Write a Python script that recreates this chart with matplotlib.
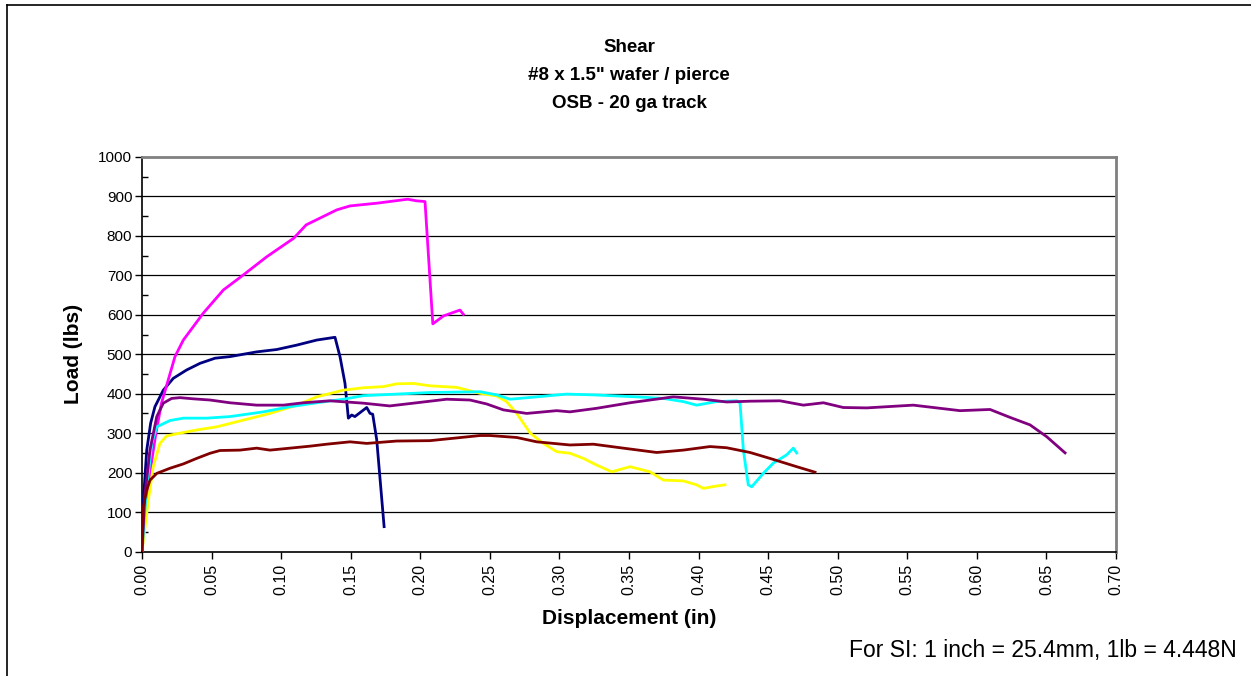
import numpy as np
import matplotlib
matplotlib.use("Agg")
import matplotlib.pyplot as plt
from matplotlib.lines import Line2D

plt.rcParams['font.family'] = ['Liberation Sans', 'DejaVu Sans']

# Datos (desplazamiento in, carga lbs)
navy_x = [0.0, 0.001, 0.0034, 0.0062, 0.0093, 0.0153, 0.0225, 0.032, 0.0417, 0.0525, 0.0632,
          0.0824, 0.0968, 0.111, 0.1256, 0.1387, 0.1423, 0.1459, 0.1483, 0.1507, 0.153,
          0.1615, 0.1639, 0.1658, 0.1687, 0.174]
navy_y = [0, 130, 257, 325, 367, 409, 439, 460, 477, 490, 494,
          506, 512, 523, 536, 543, 494, 426, 338, 346, 342,
          365, 350, 348, 283, 63]

magenta_x = [0.0, 0.003, 0.007, 0.01, 0.014, 0.0237, 0.0297, 0.044, 0.0585, 0.0728, 0.0896,
             0.109, 0.118, 0.14, 0.1495, 0.169, 0.191, 0.197, 0.2034, 0.209, 0.2166,
             0.2285, 0.231]
magenta_y = [0, 120, 230, 300, 376, 494, 536, 604, 663, 701, 747,
             794, 828, 866, 876, 883, 893, 889, 887, 577, 597,
             612, 601]

yellow_x = [0.0, 0.0046, 0.0081, 0.0129, 0.0177, 0.0273, 0.0393, 0.0537, 0.0728, 0.092, 0.1112,
            0.1256, 0.1447, 0.159, 0.1735, 0.183, 0.195, 0.207, 0.2262, 0.2429, 0.255,
            0.262, 0.2693, 0.279, 0.2885, 0.298, 0.3076, 0.3172, 0.3268, 0.3376, 0.3507,
            0.3651, 0.3747, 0.389, 0.3986, 0.4034, 0.413, 0.419]
yellow_y = [0, 131, 215, 274, 293, 300, 308, 316, 333, 350, 371,
            392, 409, 415, 418, 425, 426, 420, 416, 401, 394,
            380, 350, 300, 274, 253, 249, 236, 219, 202, 215,
            202, 181, 179, 169, 160, 166, 169]

cyan_x = [0.0, 0.003, 0.007, 0.0106, 0.0201, 0.0297, 0.0465, 0.0632, 0.0872, 0.1064, 0.1256,
          0.1447, 0.159, 0.183, 0.207, 0.243, 0.255, 0.2645, 0.2837, 0.3052, 0.3244,
          0.3555, 0.3747, 0.389, 0.3986, 0.413, 0.4274, 0.4298, 0.4322, 0.4357, 0.4382,
          0.4465, 0.4537, 0.4633, 0.4681, 0.4705]
cyan_y = [0, 150, 274, 316, 332, 338, 338, 342, 354, 367, 377,
          386, 395, 399, 403, 405, 397, 386, 392, 399, 397,
          392, 388, 380, 371, 380, 382, 376, 257, 169, 164,
          198, 224, 245, 262, 250]

purple_x = [0.0, 0.002, 0.0057, 0.0106, 0.0153, 0.0213, 0.0273, 0.0369, 0.0489, 0.0632, 0.0824,
            0.1016, 0.116, 0.135, 0.159, 0.178, 0.195, 0.219, 0.2357, 0.2477, 0.2597,
            0.2765, 0.298, 0.3076, 0.3268, 0.3507, 0.3651, 0.3818, 0.4034, 0.4202, 0.437,
            0.4585, 0.4753, 0.4897, 0.504, 0.5208, 0.5543, 0.5879, 0.6095, 0.6238, 0.6382,
            0.6502, 0.6634]
purple_y = [0, 140, 257, 342, 376, 388, 390, 387, 384, 377, 371,
            371, 377, 382, 376, 369, 376, 386, 384, 374, 359,
            350, 357, 354, 363, 377, 384, 392, 386, 379, 381,
            382, 371, 377, 365, 364, 371, 357, 360, 340, 321,
            291, 250]

maroon_x = [0.0, 0.001, 0.0034, 0.0058, 0.0106, 0.0201, 0.0297, 0.0393, 0.0489, 0.056, 0.0704,
            0.0824, 0.092, 0.1064, 0.1207, 0.1327, 0.1495, 0.1615, 0.183, 0.207, 0.2237,
            0.2429, 0.25, 0.2693, 0.2837, 0.3076, 0.3244, 0.3459, 0.3699, 0.389, 0.4082,
            0.4202, 0.437, 0.4513, 0.4705, 0.4837]
maroon_y = [0, 114, 156, 181, 198, 211, 222, 236, 249, 256, 257,
            262, 257, 262, 267, 272, 278, 274, 280, 281, 287,
            294, 294, 289, 278, 270, 272, 262, 251, 257, 266,
            263, 251, 236, 215, 201]

x_ticks = np.arange(0, 0.701, 0.05)
y_ticks = np.arange(0, 1001, 100)

fig = plt.figure(figsize=(12.51, 6.76), dpi=100)
ax = fig.add_axes([142 / 1251, 1 - 551.5 / 676, 974 / 1251, 394.5 / 676])

# grid horizontal estilo Excel
for v in y_ticks[1:-1]:
    ax.axhline(v, color='black', lw=0.9, zorder=1)

lw = 2.0
ax.plot(navy_x, navy_y, color='#000080', lw=lw, zorder=3)
ax.plot(magenta_x, magenta_y, color='#FF00FF', lw=lw, zorder=3)
ax.plot(yellow_x, yellow_y, color='#FFFF00', lw=lw, zorder=3)
ax.plot(cyan_x, cyan_y, color='#00FFFF', lw=lw, zorder=3)
ax.plot(purple_x, purple_y, color='#800080', lw=lw, zorder=3)
ax.plot(maroon_x, maroon_y, color='#800000', lw=lw, zorder=3)

ax.set_xlim(0, 0.70)
ax.set_ylim(0, 1000)
ax.set_xticks(x_ticks)
ax.set_xticklabels(["%.2f" % t for t in x_ticks], rotation=90)
ax.set_yticks(y_ticks)
ax.set_yticks(np.arange(50, 1000, 100), minor=True)
ax.tick_params(axis='both', which='major', labelsize=11, length=5, width=1, direction='out', pad=2)
ax.tick_params(axis='y', which='minor', length=4, width=1, direction='in')
ax.tick_params(axis='x', pad=4, labelsize=11.5)

for s in ['left', 'bottom']:
    ax.spines[s].set_color('black')
    ax.spines[s].set_linewidth(1.2)
for s in ['top', 'right']:
    ax.spines[s].set_color('#808080')
    ax.spines[s].set_linewidth(2)

ax.set_xlabel("Displacement (in)", fontsize=15, fontweight='bold')
ax.set_ylabel("Load (lbs)", fontsize=15, fontweight='bold')
ax.xaxis.set_label_coords(0.5, -0.145)
ax.yaxis.set_label_coords(-0.061, 0.5)

fig.text(629 / 1251, 1 - 47 / 676, "Shear", ha='center', va='center', fontsize=13.5, fontweight='bold')
fig.text(629 / 1251, 1 - 76 / 676, "#8 x 1.5\" wafer / pierce", ha='center', va='center', fontsize=13.5, fontweight='bold')
fig.text(629 / 1251, 1 - 104 / 676, "OSB - 20 ga track", ha='center', va='center', fontsize=13.5, fontweight='bold')

fig.text(1237 / 1251, 1 - 650 / 676, "For SI: 1 inch = 25.4mm, 1lb = 4.448N", ha='right', va='center', fontsize=16.5)

# marco exterior del grafico
fig.add_artist(Line2D([7 / 1251, 7 / 1251], [0, 1 - 5 / 676], transform=fig.transFigure, color='black', lw=1.2))
fig.add_artist(Line2D([7 / 1251, 1], [1 - 5 / 676, 1 - 5 / 676], transform=fig.transFigure, color='black', lw=1.2))

fig.savefig("out.png", dpi=100)
